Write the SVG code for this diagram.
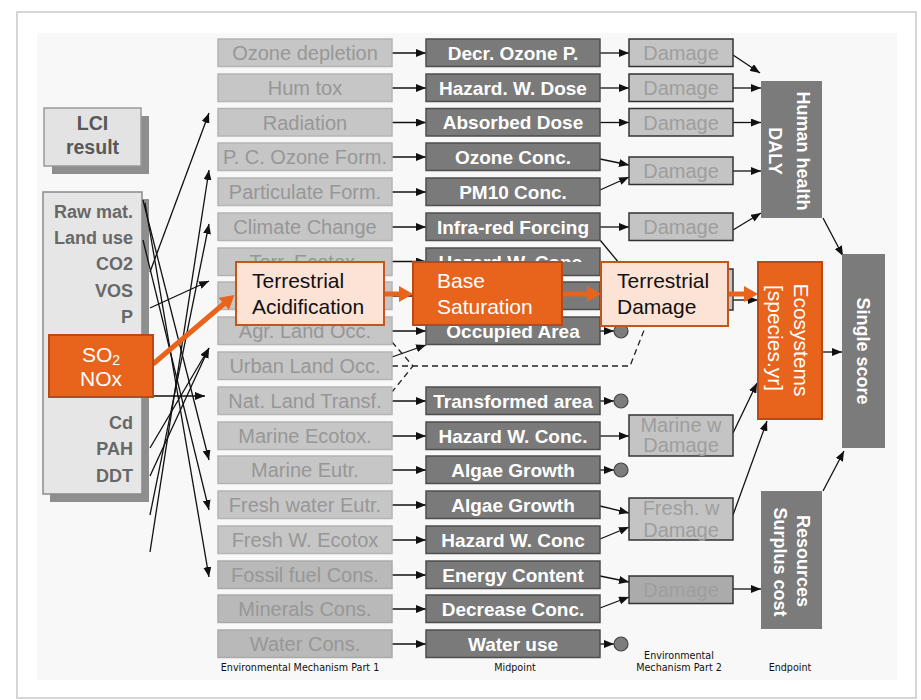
<svg xmlns="http://www.w3.org/2000/svg" width="921" height="700" viewBox="0 0 921 700">
<style>
text{font-family:"Liberation Sans",Arial,sans-serif}
.b2{fill:#c6c6c6;stroke:#b4b4b4;stroke-width:1.5}
.b2d{fill:#b9b9b9;stroke:#aaaaaa;stroke-width:1.5}
.t2{font-size:20px;fill:#979797;text-anchor:middle}
.b3{fill:#7a7a7a;stroke:#4e4e4e;stroke-width:1.5}
.t3{font-size:19px;font-weight:bold;fill:#fff;text-anchor:middle}
.b4{fill:#c4c4c4;stroke:#333;stroke-width:1.5}
.b4d{fill:#ababab;stroke:#333;stroke-width:1.5}
.t4{font-size:20px;fill:#9e9e9e;text-anchor:middle}
.ep{fill:#7b7b7b}
.te{font-size:18px;font-weight:bold;fill:#fff;text-anchor:middle}
.or{fill:#E8631C;stroke:#B94A12;stroke-width:2}
.pe{fill:#FCE3D6;stroke:#C5561B;stroke-width:2}
.tw{font-size:21px;fill:#fff}
.tk{font-size:21px;fill:#111}
.li{font-size:18px;font-weight:bold;fill:#686868;text-anchor:end}
.c{stroke:#111;stroke-width:1.3;fill:none;marker-end:url(#ah)}
.d{stroke:#222;stroke-width:1.3;fill:none;stroke-dasharray:6 4}
.oa{stroke:#E8631C;stroke-width:5;fill:none;marker-end:url(#oh)}
.ci{fill:#7d7d7d;stroke:#444;stroke-width:1.2}
.lb{font-family:"DejaVu Sans",Verdana,sans-serif;font-size:9.6px;fill:#111;text-anchor:middle}
</style>
<defs>
<marker id="ah" markerUnits="userSpaceOnUse" markerWidth="10" markerHeight="8" refX="10" refY="4" orient="auto"><path d="M0,0 L10,4 L0,8 z" fill="#111"/></marker>
<marker id="oh" markerUnits="userSpaceOnUse" markerWidth="14" markerHeight="16" refX="3" refY="8" orient="auto"><path d="M0,0 L14,8 L0,16 z" fill="#E8631C"/></marker>
<clipPath id="row6clip"><rect x="200" y="240" width="420" height="22"/></clipPath>
</defs>
<rect x="0" y="0" width="921" height="700" fill="#fff"/>
<rect x="17" y="12" width="899" height="686" fill="#fff" stroke="#d6d6d6" stroke-width="2"/>
<rect x="37" y="33" width="860" height="647" fill="#f8f8f8"/>

<g id="lci"><rect x="52" y="116" width="97" height="58" fill="#8e8e8e"/><rect x="44" y="108" width="97" height="58" fill="#e3e3e3" stroke="#9a9a9a" stroke-width="1.5"/><text x="92.5" y="130" font-size="19.5" font-weight="bold" fill="#585858" text-anchor="middle">LCI</text><text x="92.5" y="154" font-size="19.5" font-weight="bold" fill="#585858" text-anchor="middle">result</text></g>
<g id="inventory"><rect x="50" y="199" width="99" height="303" fill="#8e8e8e"/><rect x="43" y="192" width="99" height="302" fill="#e6e6e6" stroke="#8a8a8a" stroke-width="1.5"/>
<text class="li" x="133" y="217.5">Raw mat.</text><text class="li" x="133" y="244">Land use</text><text class="li" x="133" y="270">CO2</text><text class="li" x="133" y="297">VOS</text><text class="li" x="133" y="323">P</text><text class="li" x="133" y="429">Cd</text><text class="li" x="133" y="455">PAH</text><text class="li" x="133" y="481.5">DDT</text></g>

<g id="connectors">
<path class="c" d="M143,200 L209,460"/>
<path class="c" d="M143,240 L209,510"/>
<path class="c" d="M145,203 L209,577"/>
<path class="c" d="M150,272 L209,113"/>
<path class="c" d="M150,552 L209,170"/>
<path class="c" d="M150,515 L209,224"/>
<path class="c" d="M150,476 L209,348"/>
<path class="c" d="M150,448 L209,348"/>
<path class="c" d="M150,308 L209,281"/>
<path class="c" d="M150,396 L205,396"/>
<path class="c" d="M392,53 L426,53"/><path class="c" d="M392,88 L426,88"/><path class="c" d="M392,122.5 L426,122.5"/><path class="c" d="M392,157 L426,157"/><path class="c" d="M392,192 L426,192"/><path class="c" d="M392,227 L426,227"/><path class="c" d="M392,261.5 L426,261.5"/><path class="c" d="M392,296 L426,296"/><path class="c" d="M392,331 L426,331"/><path class="c" d="M392,357 L426,345"/><path class="c" d="M392,401 L426,401"/><path class="c" d="M392,436 L426,436"/><path class="c" d="M392,470 L426,470"/><path class="c" d="M392,505 L426,505"/><path class="c" d="M392,540 L426,540"/><path class="c" d="M392,575 L426,575"/><path class="c" d="M392,609 L426,609"/><path class="c" d="M392,644 L426,644"/>
<path class="d" d="M392,342 L413,366 L392,392"/>
<path class="d" d="M392,366 L630,366 L652,310"/>
<path class="c" d="M600,53 L629,53"/><path class="c" d="M600,88 L629,88"/><path class="c" d="M600,122.5 L629,122.5"/>
<path class="c" d="M600,159 L629,165"/><path class="c" d="M600,190 L629,177"/>
<path class="c" d="M600,227 L629,227"/>
<path class="c" d="M600,240 L629,275"/>
<path class="c" d="M600,331 L614,331"/><path class="c" d="M600,401 L614,401"/><path class="c" d="M600,470 L614,470"/><path class="c" d="M600,644 L614,644"/>
<path class="c" d="M600,436 L629,436"/>
<path class="c" d="M600,506 L629,513"/><path class="c" d="M600,539 L629,527"/>
<path class="c" d="M600,576 L629,582"/><path class="c" d="M600,608 L629,597"/>
<path class="c" d="M733,55 L760,73"/>
<path class="c" d="M733,88 L761,88"/>
<path class="c" d="M733,122.5 L761,122.5"/>
<path class="c" d="M733,171 L761,171"/>
<path class="c" d="M733,230 L761,213"/>
<path class="c" d="M733,300 L758,300"/>
<path class="c" d="M733,433 L757,383"/>
<path class="c" d="M733,515 L767,421"/>
<path class="c" d="M733,589 L761,589"/>
<path class="c" d="M823,218 L843,256"/>
<path class="c" d="M822,352 L842,352"/>
<path class="c" d="M823,491 L844,451"/>
</g>

<g id="mech1">
<g id="ozone-depletion"><rect class="b2" x="218" y="39" width="174" height="27.5"/><text class="t2" x="305" y="60">Ozone depletion</text></g>
<g id="hum-tox"><rect class="b2" x="218" y="74" width="174" height="27.5"/><text class="t2" x="305" y="95">Hum tox</text></g>
<g id="radiation"><rect class="b2" x="218" y="108.5" width="174" height="27.5"/><text class="t2" x="305" y="129.5">Radiation</text></g>
<g id="pc-ozone"><rect class="b2" x="218" y="143" width="174" height="27.5"/><text class="t2" x="305" y="164">P. C. Ozone Form.</text></g>
<g id="particulate"><rect class="b2" x="218" y="178" width="174" height="27.5"/><text class="t2" x="305" y="199">Particulate Form.</text></g>
<g id="climate"><rect class="b2" x="218" y="213" width="174" height="27.5"/><text class="t2" x="305" y="234">Climate Change</text></g>
<g id="terr-ecotox"><rect class="b2" x="218" y="248" width="174" height="27.5"/><text class="t2" x="305" y="269" clip-path="url(#row6clip)">Terr. Ecotox.</text></g>
<g id="terr-acid-m1"><rect class="b2" x="218" y="282" width="174" height="27.5"/></g>
<g id="agr-land"><rect class="b2" x="218" y="317" width="174" height="27.5"/><text class="t2" x="305" y="338">Agr. Land Occ.</text></g>
<g id="urban-land"><rect class="b2" x="218" y="352" width="174" height="27.5"/><text class="t2" x="305" y="373">Urban Land Occ.</text></g>
<g id="nat-land"><rect class="b2" x="218" y="387" width="174" height="27.5"/><text class="t2" x="305" y="408">Nat. Land Transf.</text></g>
<g id="marine-ecotox"><rect class="b2" x="218" y="422" width="174" height="27.5"/><text class="t2" x="305" y="443">Marine Ecotox.</text></g>
<g id="marine-eutr"><rect class="b2" x="218" y="456" width="174" height="27.5"/><text class="t2" x="305" y="477">Marine Eutr.</text></g>
<g id="fresh-eutr"><rect class="b2" x="218" y="491" width="174" height="27.5"/><text class="t2" x="305" y="512">Fresh water Eutr.</text></g>
<g id="fresh-ecotox"><rect class="b2" x="218" y="526" width="174" height="27.5"/><text class="t2" x="305" y="547">Fresh W. Ecotox</text></g>
<g id="fossil"><rect class="b2d" x="218" y="561" width="174" height="27.5"/><text class="t2" x="305" y="582" fill="#a6a6a6">Fossil fuel Cons.</text></g>
<g id="minerals"><rect class="b2d" x="218" y="595" width="174" height="27.5"/><text class="t2" x="305" y="616" fill="#a6a6a6">Minerals Cons.</text></g>
<g id="water-cons"><rect class="b2d" x="218" y="630" width="174" height="27.5"/><text class="t2" x="305" y="651" fill="#a6a6a6">Water Cons.</text></g>
</g>

<g id="midpoint">
<g id="m0"><rect class="b3" x="426" y="39" width="174" height="27.5"/><text class="t3" x="513" y="59.5">Decr. Ozone P.</text></g>
<g id="m1"><rect class="b3" x="426" y="74" width="174" height="27.5"/><text class="t3" x="513" y="94.5">Hazard. W. Dose</text></g>
<g id="m2"><rect class="b3" x="426" y="108.5" width="174" height="27.5"/><text class="t3" x="513" y="129">Absorbed Dose</text></g>
<g id="m3"><rect class="b3" x="426" y="143" width="174" height="27.5"/><text class="t3" x="513" y="163.5">Ozone Conc.</text></g>
<g id="m4"><rect class="b3" x="426" y="178" width="174" height="27.5"/><text class="t3" x="513" y="198.5">PM10 Conc.</text></g>
<g id="m5"><rect class="b3" x="426" y="213" width="174" height="27.5"/><text class="t3" x="513" y="233.5">Infra-red Forcing</text></g>
<g id="m6"><rect class="b3" x="426" y="248" width="174" height="27.5"/><text class="t3" x="513" y="268.5" clip-path="url(#row6clip)">Hazard W. Conc.</text></g>
<g id="m7"><rect class="b3" x="426" y="282" width="174" height="27.5"/></g>
<g id="m8"><rect class="b3" x="426" y="317" width="174" height="27.5"/><text class="t3" x="513" y="337.5">Occupied Area</text></g>
<g id="m10"><rect class="b3" x="426" y="387" width="174" height="27.5"/><text class="t3" x="513" y="407.5">Transformed area</text></g>
<g id="m11"><rect class="b3" x="426" y="422" width="174" height="27.5"/><text class="t3" x="513" y="442.5">Hazard W. Conc.</text></g>
<g id="m12"><rect class="b3" x="426" y="456" width="174" height="27.5"/><text class="t3" x="513" y="476.5">Algae Growth</text></g>
<g id="m13"><rect class="b3" x="426" y="491" width="174" height="27.5"/><text class="t3" x="513" y="511.5">Algae Growth</text></g>
<g id="m14"><rect class="b3" x="426" y="526" width="174" height="27.5"/><text class="t3" x="513" y="546.5">Hazard W. Conc</text></g>
<g id="m15"><rect class="b3" x="426" y="561" width="174" height="27.5"/><text class="t3" x="513" y="581.5">Energy Content</text></g>
<g id="m16"><rect class="b3" x="426" y="595" width="174" height="27.5"/><text class="t3" x="513" y="615.5">Decrease Conc.</text></g>
<g id="m17"><rect class="b3" x="426" y="630" width="174" height="27.5"/><text class="t3" x="513" y="650.5">Water use</text></g>
<g id="end-circles"><circle class="ci" cx="621" cy="331" r="7"/><circle class="ci" cx="621" cy="401" r="7"/><circle class="ci" cx="621" cy="470" r="7"/><circle class="ci" cx="621" cy="644" r="7"/></g>
</g>

<g id="mech2">
<g id="d0"><rect class="b4" x="629" y="39" width="104" height="27.5"/><text class="t4" x="681" y="60">Damage</text></g>
<g id="d1"><rect class="b4" x="629" y="74" width="104" height="27.5"/><text class="t4" x="681" y="95">Damage</text></g>
<g id="d2"><rect class="b4" x="629" y="108.5" width="104" height="27.5"/><text class="t4" x="681" y="129.5">Damage</text></g>
<g id="d34"><rect class="b4" x="629" y="157" width="104" height="27.5"/><text class="t4" x="681" y="178">Damage</text></g>
<g id="d5"><rect class="b4" x="629" y="213" width="104" height="27.5"/><text class="t4" x="681" y="234">Damage</text></g>
<g id="d67"><rect class="b4" x="629" y="269" width="104" height="41"/></g>
<g id="marine-dmg"><rect class="b4" x="629" y="415" width="104" height="41"/><text class="t4" x="681" y="432">Marine w</text><text class="t4" x="681" y="452">Damage</text></g>
<g id="fresh-dmg"><rect class="b4" x="629" y="498" width="104" height="42"/><text class="t4" x="681" y="515">Fresh. w</text><text class="t4" x="681" y="537">Damage</text></g>
<g id="res-dmg"><rect class="b4d" x="629" y="576" width="104" height="27.5"/><text class="t4" x="681" y="597" fill="#9a9a9a">Damage</text></g>
</g>

<g id="endpoint">
<g id="human-health"><rect class="ep" x="761" y="81" width="61" height="137"/><text class="te" transform="translate(797,151) rotate(90)">Human health</text><text class="te" transform="translate(769,151) rotate(90)">DALY</text></g>
<g id="resources"><rect class="ep" x="761" y="491" width="61" height="138"/><text class="te" transform="translate(797,561) rotate(90)">Resources</text><text class="te" transform="translate(774,562) rotate(90)">Surplus cost</text></g>
<g id="single-score"><rect class="ep" x="842" y="254" width="43" height="194"/><text class="te" transform="translate(857,351) rotate(90)">Single score</text></g>
</g>

<g id="labels">
<text class="lb" x="300" y="671">Environmental Mechanism Part 1</text>
<text class="lb" x="515" y="671">Midpoint</text>
<text class="lb" x="679" y="659">Environmental</text>
<text class="lb" x="679" y="671">Mechanism Part 2</text>
<text class="lb" x="790" y="671">Endpoint</text>
</g>

<g id="highlight">
<g id="orange-arrows">
<path class="oa" d="M153,364 L226,302"/>
<path class="oa" d="M385,294 L402,294"/>
<path class="oa" d="M563,294 L590,294"/>
<path class="oa" d="M729,294 L747,294"/>
</g>
<g id="so2-nox"><rect class="or" x="49" y="335" width="104" height="62"/><text class="tw" x="101" y="362" text-anchor="middle">SO<tspan font-size="14" dy="3">2</tspan></text><text class="tw" x="101" y="386" text-anchor="middle">NOx</text></g>
<g id="terr-acid"><rect class="pe" x="236" y="262" width="148" height="63"/><text class="tk" x="252" y="288">Terrestrial</text><text class="tk" x="252" y="314">Acidification</text></g>
<g id="base-sat"><rect class="or" x="413" y="262" width="149" height="63"/><text class="tw" x="437" y="288">Base</text><text class="tw" x="437" y="314">Saturation</text></g>
<g id="terr-dmg"><rect class="pe" x="601" y="262" width="127" height="64"/><text class="tk" x="617" y="288">Terrestrial</text><text class="tk" x="617" y="314">Damage</text></g>
<g id="ecosystems"><rect class="or" x="758" y="262" width="64" height="157"/><text class="tw" transform="translate(794,340) rotate(90)" text-anchor="middle">Ecosystems</text><text class="tw" transform="translate(768,338) rotate(90)" text-anchor="middle">[species.yr]</text></g>
</g>
</svg>
